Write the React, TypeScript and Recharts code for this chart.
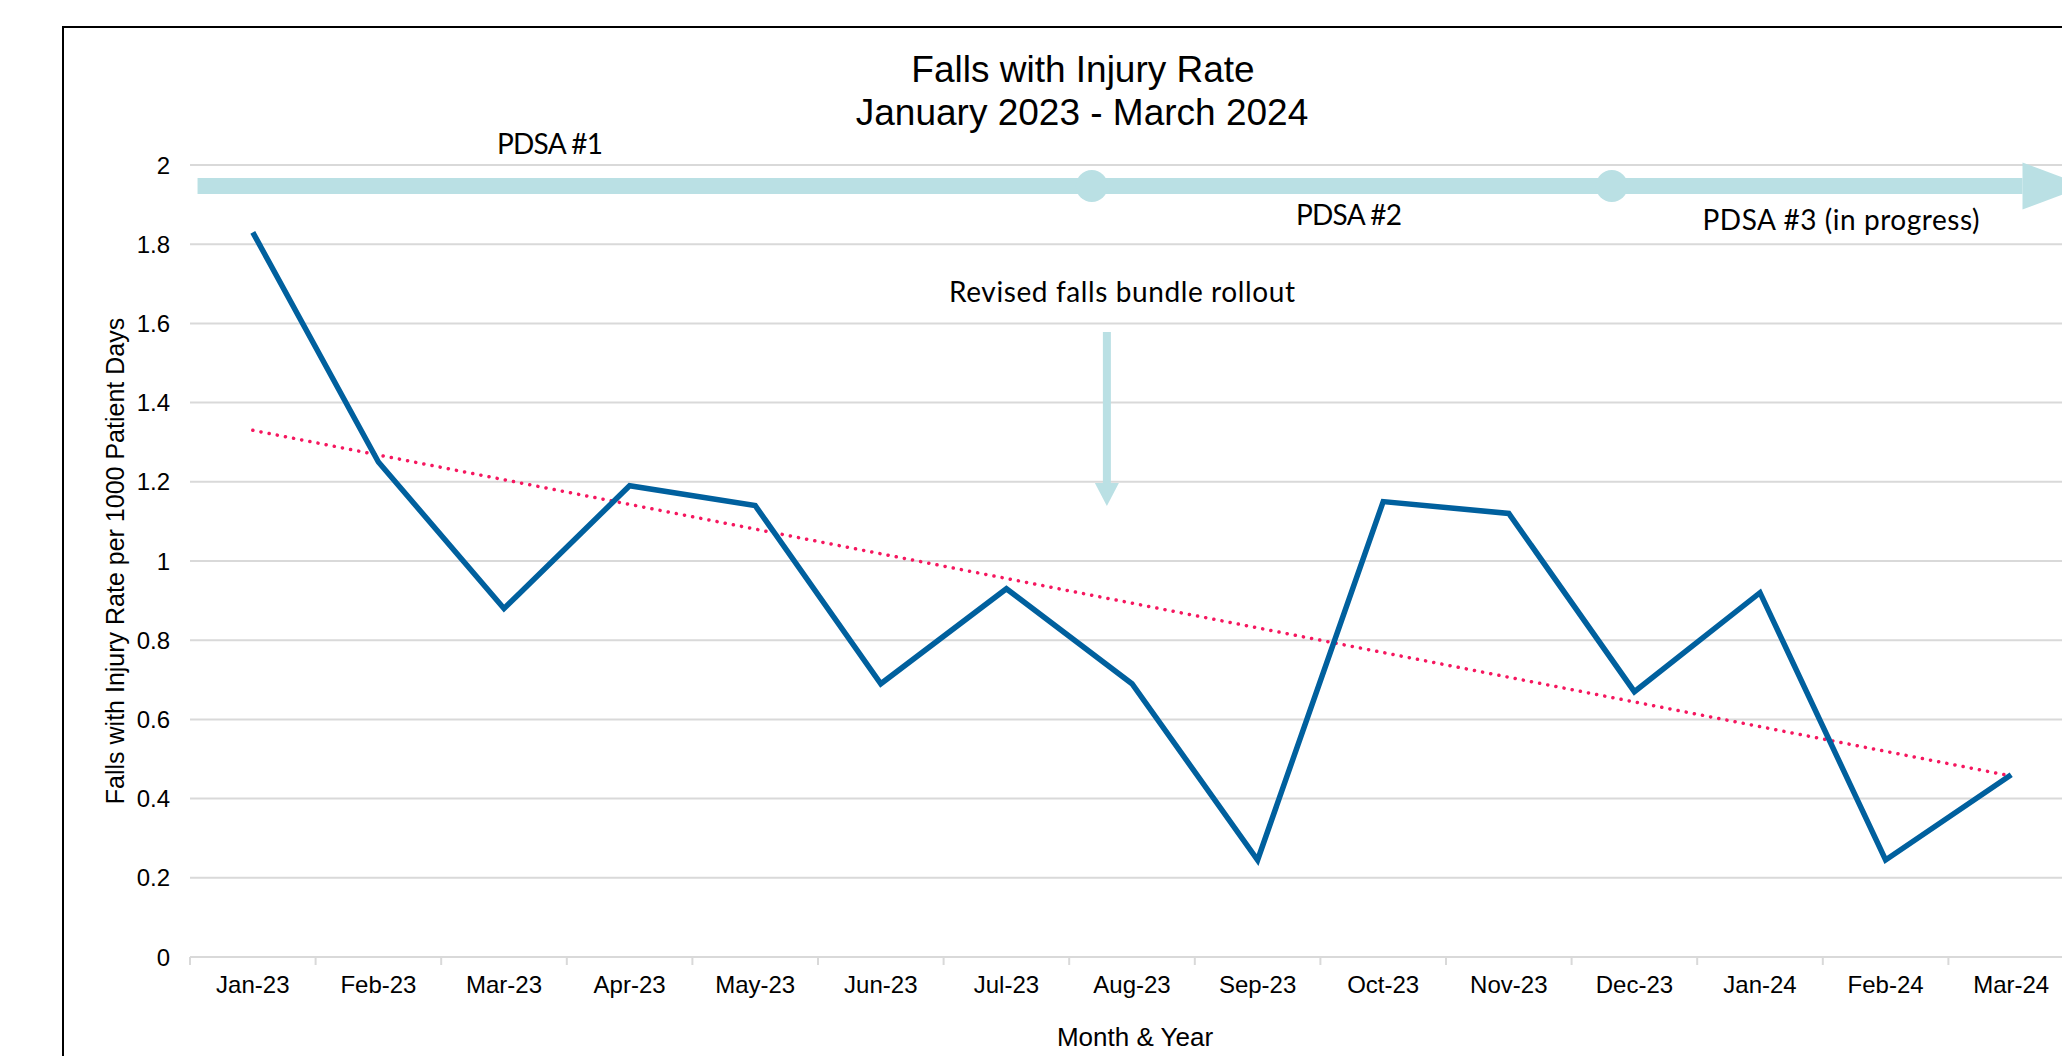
import React from 'react';
import {
  LineChart,
  Line,
  XAxis,
  YAxis,
  CartesianGrid,
  ReferenceLine,
  ReferenceDot,
} from 'recharts';

// months and the rate per 1000 patient days
const months = [
  'Jan-23', 'Feb-23', 'Mar-23', 'Apr-23', 'May-23', 'Jun-23', 'Jul-23', 'Aug-23',
  'Sep-23', 'Oct-23', 'Nov-23', 'Dec-23', 'Jan-24', 'Feb-24', 'Mar-24',
];
const rates = [1.83, 1.25, 0.88, 1.19, 1.14, 0.69, 0.93, 0.69, 0.245, 1.15, 1.12, 0.67, 0.92, 0.245, 0.46];
const yTicks = [0, 0.2, 0.4, 0.6, 0.8, 1, 1.2, 1.4, 1.6, 1.8, 2];

// dotted trend line, ends
const trendStart = 1.33;
const trendEnd = 0.457;

// annotations, x in month-index units
const pdsaY = 1.947;
const pdsaFrom = -0.44;
const pdsaHead = 14.09;
const pdsaMarks = [6.68, 10.82];
const rolloutX = 6.8;
const rolloutTop = 1.578;
const rolloutHead = 1.197;

const data = months.map((m, i) => ({ month: m, idx: i, rate: rates[i] }));

const W = 2150;
const H = 1100;
const PLOT_L = 182;
const PLOT_R = 2066;
const PLOT_T = 157;
const PLOT_B = 949;
const BAND = (PLOT_R - PLOT_L) / months.length;

const LINE = '#00609e';
const TREND = '#f5175f';
const ARROW = '#bae0e4';
const GRID = '#d9d9d9';
const NOTE_FONT = 'Lato, "Open Sans", sans-serif';

const MonthTick = (props: any) => {
  const { x, y, payload } = props;
  const half = payload && payload.offset ? payload.offset : BAND / 2;
  const axisY = y - 36;
  return (
    <g>
      <line x1={x - half} x2={x - half} y1={axisY} y2={axisY + 8} stroke={GRID} strokeWidth={2} />
      <text x={x} y={y} textAnchor="middle" fontSize={24} fill="#000">
        {payload.value}
      </text>
    </g>
  );
};

const RightHead = (p: any) => (
  <polygon
    points={`${p.cx},${p.cy - 23.5} ${p.cx + 63},${p.cy} ${p.cx},${p.cy + 23.5}`}
    fill={ARROW}
  />
);

const DownHead = (p: any) => (
  <polygon
    points={`${p.cx - 12},${p.cy} ${p.cx + 12},${p.cy} ${p.cx},${p.cy + 23}`}
    fill={ARROW}
  />
);

export default function App() {
  return (
    <div
      style={{
        position: 'fixed',
        left: 8,
        top: 8,
        width: 2054,
        height: 1048,
        overflow: 'hidden',
        fontFamily: '"Liberation Sans", Arial, sans-serif',
        background: '#fff',
      }}
    >
      <div
        style={{
          position: 'absolute',
          left: 54,
          top: 18,
          width: 2200,
          height: 1300,
          border: '2px solid #000',
          boxSizing: 'border-box',
        }}
      />
      <div style={{ position: 'absolute', left: 0, top: 0 }}>
        <LineChart
          width={W}
          height={H}
          data={data}
          margin={{ top: PLOT_T, right: W - PLOT_R, left: 0, bottom: 0 }}
        >
          <CartesianGrid horizontal vertical={false} stroke={GRID} strokeWidth={2} />
          <XAxis
            dataKey="month"
            interval={0}
            height={H - PLOT_B}
            padding={{ left: BAND / 2, right: BAND / 2 }}
            axisLine={{ stroke: GRID, strokeWidth: 2 }}
            tickLine={false}
            tickSize={8}
            tickMargin={28}
            tick={(p: any) => <MonthTick {...p} />}
          />
          <XAxis
            xAxisId="ann"
            type="number"
            dataKey="idx"
            domain={[-0.5, months.length - 0.5]}
            allowDataOverflow
            hide
          />
          <YAxis
            width={PLOT_L}
            domain={[0, 2]}
            ticks={yTicks}
            interval={0}
            axisLine={false}
            tickLine={false}
            tickMargin={14}
            tick={{ fontSize: 24, fill: '#000' }}
            tickFormatter={(v: number) => String(v)}
          />

          <ReferenceLine
            xAxisId="ann"
            segment={[
              { x: pdsaFrom, y: pdsaY },
              { x: pdsaHead, y: pdsaY },
            ]}
            stroke={ARROW}
            strokeWidth={16}
          />
          <ReferenceDot xAxisId="ann" x={pdsaHead} y={pdsaY} shape={RightHead} />
          {pdsaMarks.map((m) => (
            <ReferenceDot key={m} xAxisId="ann" x={m} y={pdsaY} r={16} fill={ARROW} stroke="none" />
          ))}

          <ReferenceLine
            xAxisId="ann"
            segment={[
              { x: rolloutX, y: rolloutTop },
              { x: rolloutX, y: rolloutHead },
            ]}
            stroke={ARROW}
            strokeWidth={8}
          />
          <ReferenceDot xAxisId="ann" x={rolloutX} y={rolloutHead} shape={DownHead} />

          <ReferenceLine
            xAxisId="ann"
            segment={[
              { x: 0, y: trendStart },
              { x: months.length - 1, y: trendEnd },
            ]}
            stroke={TREND}
            strokeWidth={3.5}
            strokeDasharray="0.1 8.2"
            strokeLinecap="round"
          />

          <Line
            type="linear"
            dataKey="rate"
            stroke={LINE}
            strokeWidth={5.5}
            dot={false}
            activeDot={false}
            isAnimationActive={false}
          />
        </LineChart>
      </div>

      <svg
        width={2054}
        height={1048}
        style={{ position: 'absolute', left: 0, top: 0, pointerEvents: 'none' }}
      >
        <text x={1075} y={74} textAnchor="middle" fontSize={37} fill="#000">
          Falls with Injury Rate
        </text>
        <text x={1074} y={117} textAnchor="middle" fontSize={37} fill="#000">
          January 2023 - March 2024
        </text>
        <text x={1127} y={1038} textAnchor="middle" fontSize={26} fill="#000">
          Month &amp; Year
        </text>
        <text
          x={116}
          y={553}
          textAnchor="middle"
          fontSize={25}
          fill="#000"
          transform="rotate(-90 116 553)"
        >
          Falls with Injury Rate per 1000 Patient Days
        </text>
        <g fontFamily={NOTE_FONT} fontSize={28} fill="#000">
          <text x={542} y={146} textAnchor="middle" textLength={106} lengthAdjust="spacing">PDSA #1</text>
          <text x={1341} y={217} textAnchor="middle" textLength={106} lengthAdjust="spacing">PDSA #2</text>
          <text x={1833} y={222} textAnchor="middle" textLength={277} lengthAdjust="spacing">PDSA #3 (in progress)</text>
          <text x={1114} y={294} textAnchor="middle" textLength={346} lengthAdjust="spacing">Revised falls bundle rollout</text>
        </g>
      </svg>
    </div>
  );
}
